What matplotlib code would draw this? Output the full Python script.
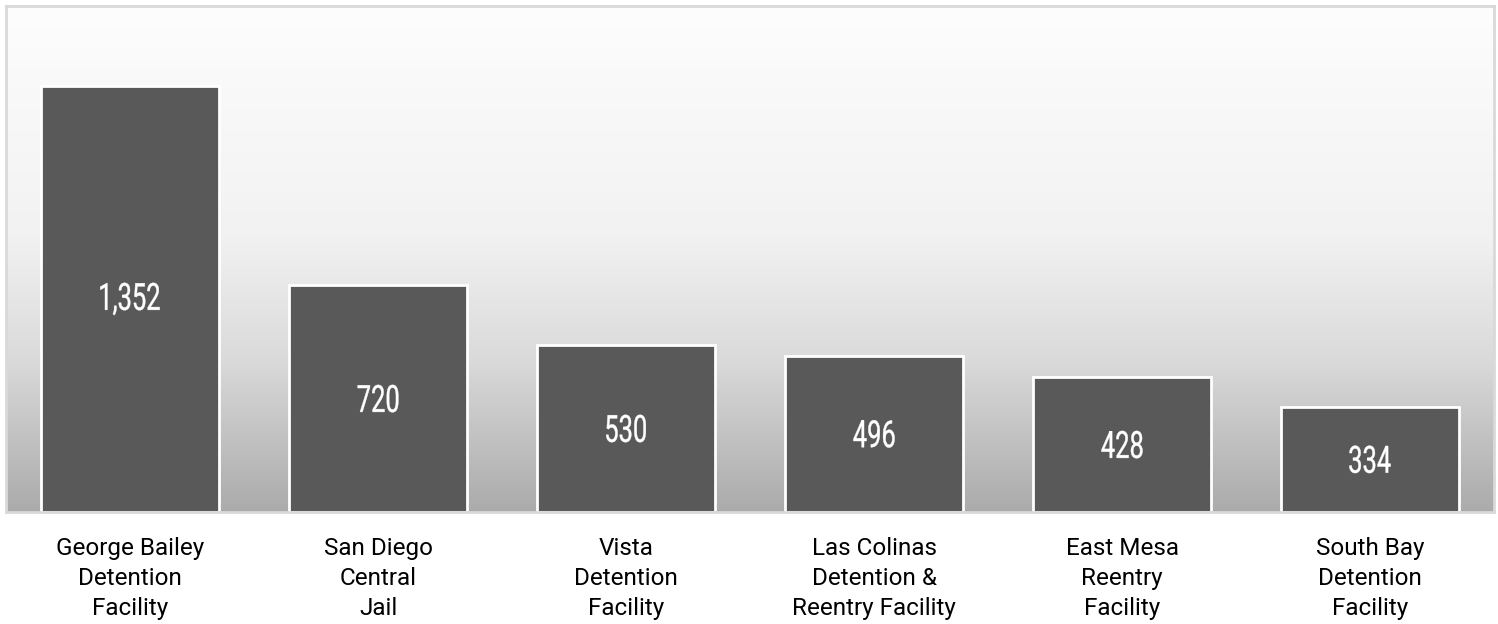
import numpy as np
import matplotlib.pyplot as plt
from matplotlib.colors import LinearSegmentedColormap
from matplotlib.font_manager import FontProperties
from matplotlib.textpath import TextPath
from matplotlib.patches import PathPatch
from matplotlib.transforms import Affine2D, ScaledTranslation

# data
facilities = ["George Bailey\nDetention\nFacility",
              "San Diego\nCentral\nJail",
              "Vista\nDetention\nFacility",
              "Las Colinas\nDetention &\nReentry Facility",
              "East Mesa\nReentry\nFacility",
              "South Bay\nDetention\nFacility"]
population = [1352, 720, 530, 496, 428, 334]

DPI = 100
fig = plt.figure(figsize=(14.98, 6.24), dpi=DPI)
ax = fig.add_axes([6 / 1498, 1 - 512 / 624, 1488 / 1498, 506 / 624])

x = np.arange(len(population))
ymax = 1606

# background gradient, light at top, darker grey at bottom
bg = LinearSegmentedColormap.from_list(
    "bg", [(0.0, "#fdfdfd"), (0.45, "#f2f2f2"), (0.7, "#dadada"), (1.0, "#ababab")])
grad = np.linspace(0, 1, 256).reshape(-1, 1)
ax.imshow(grad, cmap=bg, aspect="auto", origin="upper",
          extent=[-0.5, len(population) - 0.5, 0, ymax], zorder=0)
ax.set_xlim(-0.5, len(population) - 0.5)
ax.set_ylim(0, ymax)

ax.bar(x, population, width=0.72, color="#595959", edgecolor="white",
       linewidth=2, zorder=2)

# condensed value labels: squeeze a text path horizontally
fp = FontProperties(family="Roboto")
for xi, v in zip(x, population):
    tp = TextPath((0, 0), f"{v:,}", size=27, prop=fp)
    ext = tp.get_extents()
    cx = (ext.x0 + ext.x1) / 2
    cy = (ext.y0 + ext.y1) / 2
    tr = (Affine2D().translate(-cx, -cy).scale(0.68 * DPI / 72, DPI / 72)
          + ScaledTranslation(xi, v / 2, ax.transData))
    ax.add_patch(PathPatch(tp, transform=tr, color="white", lw=0.3, zorder=3))

ax.set_xticks(x)
ax.set_xticklabels(facilities, fontsize=17.5, family=["Roboto", "DejaVu Sans"],
                   linespacing=1.4)
ax.tick_params(axis="x", length=0, pad=18)
ax.set_yticks([])

for s in ax.spines.values():
    s.set_color("#d9d9d9")
    s.set_linewidth(2)

fig.savefig("out.png", dpi=DPI)
